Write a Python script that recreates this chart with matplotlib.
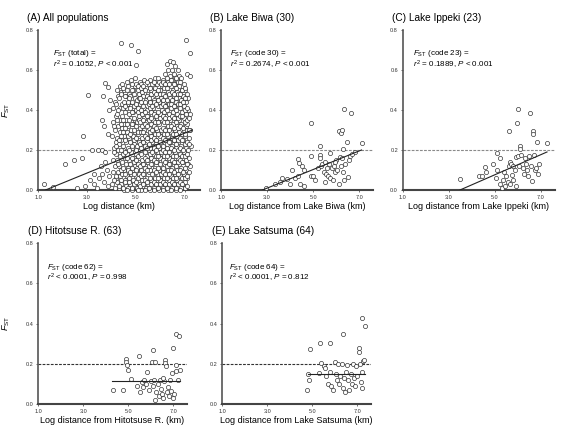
import numpy as np
import matplotlib
matplotlib.use("Agg")
import matplotlib.pyplot as plt

plt.rcParams['font.family'] = ['Liberation Sans', 'DejaVu Sans']
plt.rcParams['mathtext.fontset'] = 'custom'
plt.rcParams['mathtext.rm'] = 'Liberation Sans'
plt.rcParams['mathtext.it'] = 'Liberation Sans:italic'

# ---- data ----
titles = ["(A) All populations", "(B) Lake Biwa (30)", "(C) Lake Ippeki (23)",
          "(D) Hitotsuse R. (63)", "(E) Lake Satsuma (64)"]
xlabels = ["Log distance (km)", "Log distance from Lake Biwa (km)",
           "Log distance from Lake Ippeki (km)", "Log distance from Hitotsuse R. (km)",
           "Log distance from Lake Satsuma (km)"]
codes = ["total", "code 30", "code 23", "code 62", "code 64"]
stats = [r"$r^2$ = 0.1052, $P$ < 0.001", r"$r^2$ = 0.2674, $P$ < 0.001",
         r"$r^2$ = 0.1889, $P$ < 0.001", r"$r^2$ < 0.0001, $P$ = 0.998",
         r"$r^2$ < 0.0001, $P$ = 0.812"]
# regression lines: slope, intercept, x start, x end
fits = [(0.05, -0.065, 1.3, 7.3), (0.0465, -0.130, 2.8, 7.1), (0.0503, -0.175, 3.48, 7.26),
        (0.0, 0.115, 4.3, 7.3), (0.0, 0.15, 4.8, 7.35)]

a_pts = [(1.22,0.03),(1.6,0.015),(2.1,0.13),(2.47,0.15),(2.82,0.27),(3.03,0.475),(2.78,0.16),
    (3.2,0.2),(3.45,0.2),(3.6,0.2),(3.75,0.19),(3.65,0.47),(3.72,0.535),(3.86,0.515),(3.6,0.35),
    (3.7,0.32),(3.85,0.28),(3.9,0.4),(3.95,0.45),(4.4,0.733),(4.81,0.725),(5.08,0.697),(7.05,0.75),
    (7.19,0.683),(5.0,0.625),(6.25,0.63),(6.4,0.645),(6.5,0.64),(6.6,0.62),(6.45,0.6),(6.3,0.6),
    (6.2,0.58),(6.7,0.6),(7.1,0.58),(7.2,0.57),(2.6,0.01),(2.9,0.02),(3.1,0.05),(3.3,0.03),
    (3.5,0.06),(3.4,0.01),(3.6,0.08),(3.7,0.04),(3.8,0.1),(3.9,0.07),(3.85,0.02),(3.3,0.08),
    (3.55,0.12),(3.75,0.14),
    (4.02,0.03),(4.07,0.09),(4.04,0.15),(4.08,0.21),(4.03,0.27),(4.06,0.34),(4.05,0.41),
    (4.13,0.01),(4.17,0.06),(4.12,0.12),(4.16,0.18),(4.18,0.24),(4.14,0.30),(4.17,0.37),(4.13,0.44),
    (4.22,0.04),(4.26,0.09),(4.23,0.15),(4.27,0.2),(4.21,0.26),(4.25,0.32),(4.22,0.38),(4.26,0.47),(4.24,0.5),
    (4.31,0.01),(4.35,0.07),(4.32,0.12),(4.36,0.17),(4.3,0.23),(4.34,0.29),(4.33,0.35),(4.36,0.41),(4.31,0.46),(4.35,0.52),
    (4.4,0.03),(4.44,0.08),(4.41,0.14),(4.45,0.2),(4.39,0.25),(4.43,0.31),(4.41,0.37),(4.44,0.43),(4.4,0.49),(4.43,0.53),
    (4.49,0.0),(4.53,0.05),(4.5,0.1),(4.54,0.16),(4.48,0.22),(4.52,0.27),(4.5,0.33),(4.53,0.39),(4.49,0.44),(4.52,0.5),
    (4.58,0.02),(4.62,0.07),(4.59,0.13),(4.63,0.18),(4.57,0.24),(4.61,0.29),(4.6,0.35),(4.62,0.41),(4.58,0.47),(4.61,0.54),
    (4.67,0.01),(4.71,0.06),(4.68,0.11),(4.72,0.15),(4.66,0.21),(4.7,0.26),(4.69,0.32),(4.71,0.38),(4.67,0.43),(4.7,0.48),(4.68,0.52),
    (4.76,0.03),(4.8,0.08),(4.77,0.13),(4.81,0.19),(4.75,0.24),(4.79,0.3),(4.78,0.36),(4.8,0.42),(4.76,0.47),(4.79,0.55),
    (4.85,0.0),(4.89,0.05),(4.86,0.1),(4.9,0.16),(4.84,0.21),(4.88,0.27),(4.87,0.33),(4.89,0.39),(4.85,0.44),(4.88,0.5),
    (4.94,0.02),(4.98,0.07),(4.95,0.12),(4.99,0.18),(4.93,0.23),(4.97,0.29),(4.96,0.35),(4.98,0.4),(4.94,0.46),(4.97,0.52),(4.95,0.56),
    (5.03,0.01),(5.07,0.06),(5.04,0.11),(5.08,0.17),(5.02,0.22),(5.06,0.28),(5.05,0.34),(5.07,0.39),(5.03,0.45),(5.06,0.5),
    (5.12,0.03),(5.16,0.09),(5.13,0.14),(5.17,0.2),(5.11,0.25),(5.15,0.31),(5.14,0.37),(5.16,0.43),(5.12,0.48),(5.15,0.54),
    (5.21,0.0),(5.25,0.05),(5.22,0.1),(5.26,0.15),(5.2,0.21),(5.24,0.26),(5.23,0.32),(5.25,0.38),(5.21,0.44),(5.24,0.49),(5.22,0.53),
    (5.3,0.02),(5.34,0.08),(5.31,0.13),(5.35,0.19),(5.29,0.24),(5.33,0.3),(5.32,0.36),(5.34,0.41),(5.3,0.47),(5.33,0.55),
    (5.39,0.01),(5.43,0.06),(5.4,0.12),(5.44,0.17),(5.38,0.23),(5.42,0.28),(5.41,0.34),(5.43,0.4),(5.39,0.45),(5.42,0.51),
    (5.48,0.03),(5.52,0.09),(5.49,0.15),(5.53,0.2),(5.47,0.26),(5.51,0.31),(5.5,0.37),(5.52,0.43),(5.48,0.48),(5.51,0.53),
    (5.57,0.0),(5.61,0.05),(5.58,0.1),(5.62,0.16),(5.56,0.21),(5.6,0.27),(5.59,0.33),(5.61,0.39),(5.57,0.44),(5.6,0.5),(5.58,0.55),
    (5.66,0.02),(5.7,0.07),(5.67,0.13),(5.71,0.18),(5.65,0.24),(5.69,0.29),(5.68,0.35),(5.7,0.41),(5.66,0.46),(5.69,0.52),
    (5.75,0.01),(5.79,0.06),(5.76,0.11),(5.8,0.17),(5.74,0.22),(5.78,0.28),(5.77,0.34),(5.79,0.39),(5.75,0.45),(5.78,0.51),(5.76,0.56),
    (5.84,0.03),(5.88,0.08),(5.85,0.14),(5.89,0.19),(5.83,0.25),(5.87,0.3),(5.86,0.36),(5.88,0.42),(5.84,0.47),(5.87,0.53),
    (5.93,0.0),(5.97,0.05),(5.94,0.1),(5.98,0.16),(5.92,0.21),(5.96,0.27),(5.95,0.33),(5.97,0.38),(5.93,0.44),(5.96,0.5),(5.94,0.54),
    (6.02,0.02),(6.06,0.07),(6.03,0.12),(6.07,0.18),(6.01,0.23),(6.05,0.29),(6.04,0.35),(6.06,0.4),(6.02,0.46),(6.05,0.52),
    (6.11,0.01),(6.15,0.06),(6.12,0.11),(6.16,0.17),(6.1,0.22),(6.14,0.28),(6.13,0.34),(6.15,0.39),(6.11,0.45),(6.14,0.51),(6.12,0.55),
    (6.2,0.03),(6.24,0.09),(6.21,0.14),(6.25,0.2),(6.19,0.25),(6.23,0.31),(6.22,0.37),(6.24,0.42),(6.2,0.48),(6.23,0.53),
    (6.29,0.0),(6.33,0.05),(6.3,0.1),(6.34,0.16),(6.28,0.21),(6.32,0.27),(6.31,0.32),(6.33,0.38),(6.29,0.44),(6.32,0.49),(6.3,0.54),
    (6.38,0.02),(6.42,0.07),(6.39,0.13),(6.43,0.18),(6.37,0.24),(6.41,0.29),(6.4,0.35),(6.42,0.41),(6.38,0.46),(6.41,0.52),(6.39,0.57),
    (6.47,0.01),(6.51,0.06),(6.48,0.11),(6.52,0.17),(6.46,0.22),(6.5,0.28),(6.49,0.33),(6.51,0.39),(6.47,0.45),(6.5,0.5),(6.48,0.55),
    (6.56,0.03),(6.6,0.08),(6.57,0.14),(6.61,0.19),(6.55,0.25),(6.59,0.3),(6.58,0.36),(6.6,0.42),(6.56,0.47),(6.59,0.53),(6.57,0.57),
    (6.65,0.0),(6.69,0.05),(6.66,0.1),(6.7,0.16),(6.64,0.21),(6.68,0.27),(6.67,0.32),(6.69,0.38),(6.65,0.44),(6.68,0.49),(6.66,0.55),
    (6.74,0.02),(6.78,0.07),(6.75,0.13),(6.79,0.18),(6.73,0.24),(6.77,0.29),(6.76,0.35),(6.78,0.41),(6.74,0.46),(6.77,0.52),(6.75,0.57),
    (6.83,0.01),(6.87,0.06),(6.84,0.11),(6.88,0.17),(6.82,0.22),(6.86,0.28),(6.85,0.33),(6.87,0.39),(6.83,0.45),(6.86,0.5),(6.84,0.56),
    (6.92,0.03),(6.96,0.08),(6.93,0.14),(6.97,0.19),(6.91,0.25),(6.95,0.3),(6.94,0.36),(6.96,0.42),(6.92,0.47),(6.95,0.53),
    (7.01,0.04),(7.05,0.1),(7.02,0.15),(7.06,0.21),(7.0,0.27),(7.04,0.32),(7.03,0.38),(7.05,0.44),(7.01,0.5),
    (7.1,0.06),(7.14,0.13),(7.11,0.2),(7.15,0.26),(7.09,0.33),(7.13,0.4),(7.12,0.46),
    (7.2,0.12),(7.23,0.22),(7.19,0.3),(7.22,0.38)]

# second, interleaved set of points in the dense cloud of panel A
a_pts2 = [(4.1,0.05),(4.09,0.19),(4.11,0.32),
    (4.19,0.07),(4.2,0.22),(4.21,0.35),(4.2,0.43),
    (4.29,0.02),(4.28,0.13),(4.29,0.25),(4.28,0.4),
    (4.38,0.05),(4.37,0.1),(4.38,0.2),(4.37,0.27),(4.38,0.33),(4.38,0.48),
    (4.46,0.01),(4.47,0.11),(4.46,0.18),(4.47,0.29),(4.46,0.35),(4.47,0.41),(4.47,0.51),
    (4.56,0.04),(4.55,0.08),(4.56,0.19),(4.55,0.25),(4.56,0.31),(4.55,0.42),(4.56,0.47),
    (4.64,0.0),(4.65,0.1),(4.64,0.16),(4.65,0.27),(4.64,0.33),(4.65,0.44),(4.64,0.5),
    (4.73,0.04),(4.74,0.09),(4.73,0.2),(4.74,0.28),(4.73,0.35),(4.74,0.41),(4.73,0.46),
    (4.83,0.01),(4.82,0.11),(4.83,0.16),(4.82,0.22),(4.83,0.33),(4.82,0.39),(4.83,0.5),(4.82,0.53),
    (4.91,0.03),(4.92,0.08),(4.91,0.14),(4.92,0.25),(4.91,0.3),(4.92,0.36),(4.91,0.42),(4.92,0.48),
    (5.0,0.04),(5.01,0.1),(5.0,0.15),(5.01,0.2),(5.0,0.26),(5.01,0.32),(5.0,0.43),(5.01,0.53),
    (5.09,0.0),(5.1,0.08),(5.09,0.13),(5.1,0.24),(5.09,0.29),(5.1,0.35),(5.09,0.41),(5.1,0.46),(5.09,0.52),
    (5.18,0.02),(5.19,0.07),(5.18,0.12),(5.19,0.18),(5.18,0.23),(5.19,0.29),(5.18,0.34),(5.19,0.4),(5.18,0.46),(5.19,0.51),
    (5.27,0.03),(5.28,0.08),(5.27,0.13),(5.28,0.24),(5.27,0.29),(5.28,0.35),(5.27,0.42),(5.28,0.52),
    (5.36,0.0),(5.37,0.05),(5.36,0.11),(5.37,0.16),(5.36,0.22),(5.37,0.27),(5.36,0.33),(5.37,0.39),(5.36,0.44),(5.37,0.5),
    (5.45,0.04),(5.46,0.1),(5.45,0.15),(5.46,0.21),(5.45,0.26),(5.46,0.32),(5.45,0.37),(5.46,0.47),(5.45,0.54),
    (5.54,0.01),(5.55,0.06),(5.54,0.12),(5.55,0.18),(5.54,0.23),(5.55,0.29),(5.54,0.35),(5.55,0.41),(5.54,0.46),(5.55,0.51),
    (5.63,0.03),(5.64,0.08),(5.63,0.13),(5.64,0.19),(5.63,0.25),(5.64,0.3),(5.63,0.36),(5.64,0.42),(5.63,0.48),(5.64,0.53),
    (5.72,0.0),(5.73,0.04),(5.72,0.1),(5.73,0.15),(5.72,0.21),(5.73,0.26),(5.72,0.32),(5.73,0.38),(5.72,0.44),(5.73,0.49),(5.72,0.54),
    (5.81,0.03),(5.82,0.09),(5.81,0.14),(5.82,0.2),(5.81,0.25),(5.82,0.31),(5.81,0.37),(5.82,0.43),(5.81,0.48),
    (5.9,0.01),(5.91,0.06),(5.9,0.11),(5.91,0.17),(5.9,0.22),(5.91,0.28),(5.9,0.34),(5.91,0.39),(5.9,0.45),(5.91,0.5),(5.9,0.56),
    (5.99,0.03),(6.0,0.08),(5.99,0.13),(6.0,0.19),(5.99,0.24),(6.0,0.3),(5.99,0.36),(6.0,0.42),(5.99,0.48),(6.0,0.53),
    (6.08,0.0),(6.09,0.04),(6.08,0.09),(6.09,0.15),(6.08,0.2),(6.09,0.26),(6.08,0.31),(6.09,0.37),(6.08,0.43),(6.09,0.48),(6.08,0.54),
    (6.17,0.03),(6.18,0.08),(6.17,0.14),(6.18,0.19),(6.17,0.25),(6.18,0.3),(6.17,0.36),(6.18,0.42),(6.17,0.47),(6.18,0.53),
    (6.26,0.01),(6.27,0.06),(6.26,0.12),(6.27,0.17),(6.26,0.23),(6.27,0.28),(6.26,0.34),(6.27,0.4),(6.26,0.45),(6.27,0.51),(6.26,0.56),
    (6.35,0.03),(6.36,0.08),(6.35,0.13),(6.36,0.19),(6.35,0.24),(6.36,0.3),(6.35,0.36),(6.36,0.43),(6.35,0.48),(6.36,0.53),
    (6.44,0.0),(6.45,0.04),(6.44,0.1),(6.45,0.15),(6.44,0.21),(6.45,0.26),(6.44,0.32),(6.45,0.37),(6.44,0.43),(6.45,0.49),(6.44,0.55),
    (6.53,0.03),(6.54,0.09),(6.53,0.14),(6.54,0.2),(6.53,0.25),(6.54,0.31),(6.53,0.36),(6.54,0.42),(6.53,0.48),(6.54,0.53),(6.53,0.58),
    (6.62,0.01),(6.63,0.06),(6.62,0.12),(6.63,0.17),(6.62,0.23),(6.63,0.28),(6.62,0.34),(6.63,0.4),(6.62,0.46),(6.63,0.51),(6.62,0.56),
    (6.71,0.03),(6.72,0.08),(6.71,0.14),(6.72,0.2),(6.71,0.25),(6.72,0.31),(6.71,0.36),(6.72,0.43),(6.71,0.48),(6.72,0.54),
    (6.8,0.0),(6.81,0.04),(6.8,0.1),(6.81,0.15),(6.8,0.21),(6.81,0.26),(6.8,0.32),(6.81,0.37),(6.8,0.43),(6.81,0.48),(6.8,0.54),
    (6.89,0.03),(6.9,0.09),(6.89,0.14),(6.9,0.2),(6.89,0.25),(6.9,0.31),(6.89,0.37),(6.9,0.44),(6.89,0.5),
    (6.98,0.01),(6.99,0.06),(6.98,0.11),(6.99,0.17),(6.98,0.23),(6.99,0.28),(6.98,0.34),(6.99,0.4),(6.98,0.46),(6.99,0.51),
    (7.07,0.02),(7.08,0.07),(7.07,0.13),(7.08,0.18),(7.07,0.24),(7.08,0.3),(7.07,0.35),(7.08,0.41),(7.07,0.48),
    (7.16,0.09),(7.17,0.16),(7.16,0.23),(7.17,0.3),(7.16,0.36)]

b_pts = [(2.96,0.01),(3.35,0.03),(3.57,0.04),(3.64,0.06),(3.86,0.053),(4.0,0.03),(4.1,0.1),(4.2,0.06),
    (4.35,0.07),(4.36,0.153),(4.4,0.133),(4.5,0.12),(4.6,0.1),(4.43,0.03),(4.6,0.02),(4.9,0.07),
    (4.91,0.17),(4.9,0.333),(5.0,0.07),(5.1,0.05),(5.2,0.11),(5.3,0.22),(5.3,0.175),(5.3,0.16),
    (5.35,0.12),(5.4,0.13),(5.45,0.09),(5.5,0.14),(5.55,0.08),(5.6,0.11),(5.65,0.07),(5.7,0.13),
    (5.74,0.187),(5.75,0.06),(5.8,0.11),(5.85,0.05),(5.9,0.12),(5.95,0.09),(6.0,0.15),(6.05,0.1),
    (6.14,0.297),(6.15,0.167),(6.2,0.283),(6.2,0.12),(6.25,0.16),(6.26,0.3),(6.3,0.203),(6.3,0.09),
    (6.32,0.405),(6.35,0.05),(6.4,0.13),(6.46,0.238),(6.5,0.066),(6.55,0.15),(6.6,0.17),(6.64,0.387),
    (6.7,0.18),(6.8,0.19),(7.12,0.233),(5.5,0.04),(6.1,0.03),(5.95,0.14)]

c_pts = [(3.48,0.053),(4.3,0.07),(4.42,0.07),(4.57,0.113),(4.6,0.09),(4.93,0.13),(5.07,0.183),
    (5.2,0.158),(5.05,0.06),(5.1,0.1),(5.2,0.03),(5.3,0.01),(5.35,0.05),(5.4,0.09),(5.45,0.02),
    (5.5,0.07),(5.55,0.04),(5.6,0.12),(5.62,0.297),(5.65,0.14),(5.65,0.03),(5.7,0.13),(5.75,0.075),
    (5.8,0.05),(5.8,0.12),(5.85,0.1),(5.9,0.02),(5.9,0.165),(5.97,0.333),(6.0,0.17),(6.01,0.405),
    (6.05,0.12),(6.1,0.22),(6.1,0.207),(6.15,0.175),(6.2,0.11),(6.25,0.08),(6.3,0.16),(6.35,0.13),
    (6.4,0.1),(6.45,0.07),(6.5,0.17),(6.52,0.387),(6.55,0.12),(6.6,0.045),(6.67,0.297),(6.67,0.28),
    (6.7,0.175),(6.75,0.1),(6.8,0.11),(6.81,0.238),(6.85,0.08),(6.9,0.13),(7.27,0.233)]

d_pts = [(4.32,0.07),(4.76,0.072),(4.91,0.222),(4.91,0.21),(4.93,0.194),(5.0,0.17),(5.12,0.123),
    (5.4,0.09),(5.46,0.24),(5.5,0.06),(5.6,0.11),(5.65,0.085),(5.7,0.12),(5.8,0.1),(5.83,0.16),
    (5.9,0.07),(6.0,0.115),(6.05,0.21),(6.1,0.09),(6.12,0.269),(6.15,0.12),(6.2,0.21),(6.25,0.06),
    (6.3,0.1),(6.35,0.04),(6.4,0.12),(6.45,0.075),(6.5,0.05),(6.55,0.03),(6.6,0.115),(6.64,0.22),
    (6.65,0.205),(6.66,0.19),(6.7,0.06),(6.75,0.085),(6.8,0.04),(6.85,0.12),(6.9,0.065),(6.94,0.155),
    (6.98,0.277),(7.0,0.03),(7.05,0.05),(7.1,0.194),(7.13,0.165),(7.13,0.348),(7.24,0.34),
    (7.28,0.168),(7.2,0.12),(6.2,0.02),(6.55,0.13)]

e_pts = [(4.75,0.07),(4.85,0.12),(4.8,0.15),(4.91,0.272),(5.36,0.302),(5.77,0.305),(5.4,0.205),
    (5.5,0.19),(5.58,0.18),(5.3,0.155),(5.6,0.14),(5.7,0.1),(5.8,0.16),(5.85,0.09),(5.9,0.07),
    (6.0,0.21),(6.05,0.15),(6.1,0.12),(6.15,0.2),(6.2,0.1),(6.25,0.14),(6.3,0.2),(6.36,0.347),
    (6.35,0.08),(6.4,0.13),(6.45,0.06),(6.5,0.16),(6.55,0.195),(6.6,0.12),(6.65,0.07),(6.7,0.15),
    (6.75,0.1),(6.8,0.2),(6.85,0.13),(6.9,0.09),(6.95,0.19),(7.0,0.14),(7.06,0.277),(7.06,0.26),
    (7.1,0.2),(7.15,0.11),(7.2,0.08),(7.21,0.426),(7.25,0.215),(7.3,0.22),(7.36,0.39),(7.2,0.16)]

all_pts = [a_pts + a_pts2, b_pts, c_pts, d_pts, e_pts]

# axes rectangles in figure fraction
rects = [[0.068, 0.556, 0.288, 0.374], [0.394, 0.556, 0.271, 0.374], [0.718, 0.556, 0.271, 0.374],
         [0.068, 0.056, 0.265, 0.376], [0.396, 0.056, 0.265, 0.376]]
ann_x = [1.6, 1.4, 1.43, 1.39, 1.31]
dash_col = ['#8a8a8a', '#8a8a8a', '#8a8a8a', '#333333', '#333333']

fig = plt.figure(figsize=(5.61, 4.28), dpi=100)
for i in range(5):
    ax = fig.add_axes(rects[i])
    x, y = zip(*all_pts[i])
    ax.plot(x, y, 'o', ms=3.0, mfc='white', mec='#222222', mew=0.45, clip_on=False, zorder=3)
    s, b, x0, x1 = fits[i]
    ax.plot([x0, x1], [s*x0+b, s*x1+b], color='#222222', lw=0.8, zorder=4)
    ax.axhline(0.2, color=dash_col[i], ls=(0, (2.5, 1.2)), lw=0.8, zorder=1)
    ax.set_xlim(1.0, 7.6)
    ax.set_ylim(0.0, 0.8)
    ax.set_xticks([1.0, 3.0, 5.0, 7.0])
    ax.set_yticks([0.0, 0.2, 0.4, 0.6, 0.8])
    ax.xaxis.set_major_formatter(matplotlib.ticker.FormatStrFormatter('%.1f'))
    ax.yaxis.set_major_formatter(matplotlib.ticker.FormatStrFormatter('%.1f'))
    ax.tick_params(labelsize=4, length=1.5, width=0.5, pad=2, colors='#333333')
    for side in ['top', 'right']:
        ax.spines[side].set_visible(False)
    ax.spines['left'].set_linewidth(1.2)
    ax.spines['left'].set_color('#555555')
    ax.spines['bottom'].set_linewidth(1.5)
    ax.spines['bottom'].set_color('#444444')
    ax.set_xlabel(xlabels[i], fontsize=6.5)
    ax.xaxis.set_label_coords(0.5, -0.075)
    if i in (0, 3):
        ax.set_ylabel(r'$\it{F}_{\rm ST}$', fontsize=6.5)
        ax.yaxis.set_label_coords(-0.16 if i == 0 else -0.175, 0.5)
    ax.text(-0.07, 1.075, titles[i], transform=ax.transAxes, fontsize=7.3, va='center', ha='left')
    ax.text(ann_x[i], 0.68, r'$\it{F}_{\rm ST}$' + ' (' + codes[i] + ') =', fontsize=5.8, va='center')
    ax.text(ann_x[i], 0.625, stats[i], fontsize=5.8, va='center')

plt.savefig('out.png', dpi=100)
